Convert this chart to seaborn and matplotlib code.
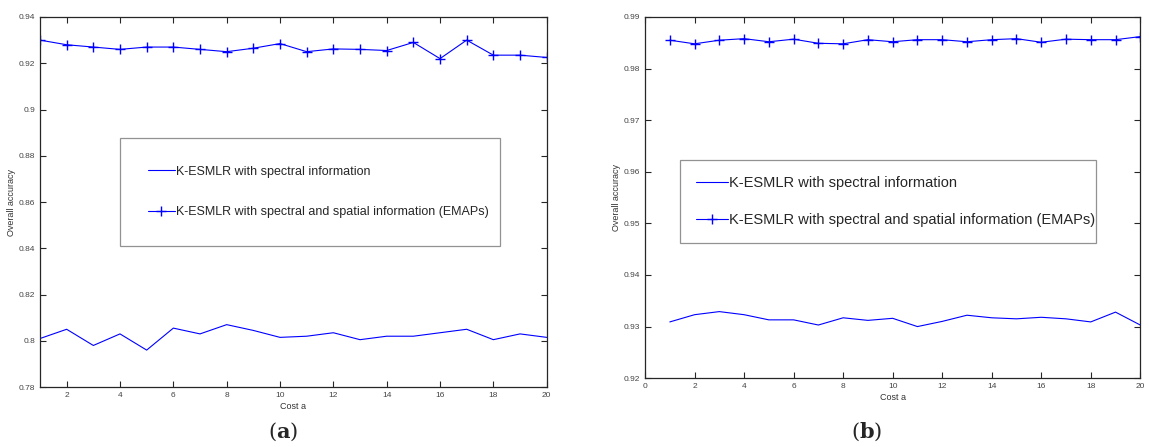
import numpy as np
import pandas as pd
import matplotlib
matplotlib.use("Agg")
import matplotlib.pyplot as plt
import seaborn as sns

cost = list(range(1, 21))

# panel (a)
a_spectral = [0.801, 0.805, 0.798, 0.803, 0.796, 0.8055, 0.803, 0.807, 0.8045, 0.8015,
              0.802, 0.8035, 0.8005, 0.802, 0.802, 0.8035, 0.805, 0.8005, 0.803, 0.8015]
a_emaps = [0.930, 0.928, 0.927, 0.926, 0.927, 0.927, 0.926, 0.925, 0.9265, 0.9285,
           0.925, 0.9262, 0.926, 0.9255, 0.929, 0.922, 0.930, 0.9235, 0.9235, 0.9225]

# panel (b)
b_spectral = [0.9309, 0.9323, 0.9329, 0.9323, 0.9313, 0.9313, 0.9303, 0.9317, 0.9312, 0.9316,
              0.9300, 0.9310, 0.9322, 0.9317, 0.9315, 0.9318, 0.9315, 0.9309, 0.9328, 0.9303]
b_emaps = [0.9855, 0.9848, 0.9855, 0.9858, 0.9852, 0.9857, 0.9849, 0.9848, 0.9856, 0.9852,
           0.9856, 0.9856, 0.9852, 0.9856, 0.9858, 0.9851, 0.9857, 0.9856, 0.9856, 0.9862]

lab_spec = "K-ESMLR with spectral information"
lab_emaps = "K-ESMLR with spectral and spatial information (EMAPs)"

sns.set_style("ticks")
plt.rcParams['font.family'] = ['Liberation Sans', 'DejaVu Sans']

fig = plt.figure(figsize=(11.49, 4.47), dpi=100)
ax1 = fig.add_axes([0.0348, 0.134, 0.441, 0.828])
ax2 = fig.add_axes([0.5614, 0.154, 0.431, 0.808])


def draw(ax, spec, emaps):
    df = pd.DataFrame({"cost": cost, "spec": spec, "emaps": emaps})
    sns.lineplot(data=df, x="cost", y="spec", ax=ax, color="#0000ff", lw=0.8,
                 label=lab_spec)
    sns.lineplot(data=df, x="cost", y="emaps", ax=ax, color="#0000ff", lw=0.8,
                 marker="+", markersize=7, markeredgewidth=1.0,
                 markeredgecolor="#0000ff", label=lab_emaps)
    ax.set_xlabel("Cost a", fontsize=6.5, color="#333333", labelpad=2)
    ax.set_ylabel("Overall accuracy", fontsize=6.5, color="#333333", labelpad=2)
    ax.tick_params(direction="in", top=True, right=True, labelsize=6,
                   labelcolor="#444444", length=4, width=0.8)
    for s in ax.spines.values():
        s.set_linewidth(0.9)


draw(ax1, a_spectral, a_emaps)
ax1.set_xlim(1, 20)
ax1.set_xticks(range(2, 21, 2))
ax1.set_ylim(0.78, 0.94)
ax1.set_yticks(np.arange(0.78, 0.9401, 0.02))
ax1.set_yticklabels(["0.78", "0.8", "0.82", "0.84", "0.86", "0.88", "0.9", "0.92", "0.94"])
leg1 = ax1.legend(loc="upper left", bbox_to_anchor=(0.158, 0.673, 0.75, 0.0), mode="expand",
                  fontsize=9, frameon=True, fancybox=False, edgecolor="#777777",
                  handlelength=2.2, handletextpad=0.1, labelspacing=2.3,
                  borderpad=2.2, borderaxespad=0)
leg1.get_frame().set_linewidth(0.9)

draw(ax2, b_spectral, b_emaps)
ax2.set_xlim(0, 20)
ax2.set_xticks(range(0, 21, 2))
ax2.set_ylim(0.92, 0.99)
ax2.set_yticks(np.arange(0.92, 0.9901, 0.01))
ax2.set_yticklabels(["0.92", "0.93", "0.94", "0.95", "0.96", "0.97", "0.98", "0.99"])
leg2 = ax2.legend(loc="upper left", bbox_to_anchor=(0.07, 0.604, 0.84, 0.0), mode="expand",
                  fontsize=10.5, frameon=True, fancybox=False, edgecolor="#777777",
                  handlelength=2.2, handletextpad=0.1, labelspacing=1.6,
                  borderpad=1.1, borderaxespad=0)
leg2.get_frame().set_linewidth(0.9)

fig.text(0.246, 0.035, r"($\mathbf{a}$)", fontsize=15, ha="center", va="center",
         family="DejaVu Serif", math_fontfamily="dejavuserif")
fig.text(0.754, 0.035, r"($\mathbf{b}$)", fontsize=15, ha="center", va="center",
         family="DejaVu Serif", math_fontfamily="dejavuserif")

fig.savefig("out.png", dpi=100)
